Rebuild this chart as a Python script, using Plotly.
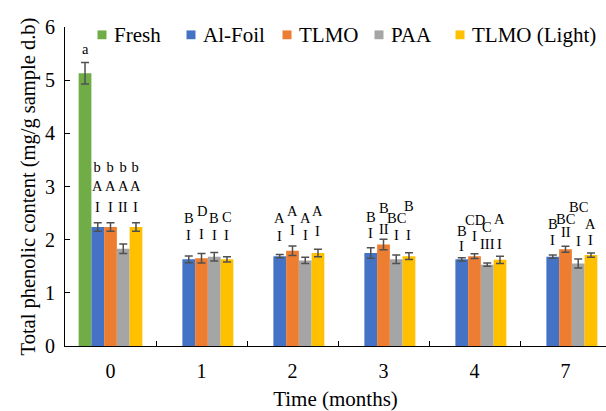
import plotly.graph_objects as go

# ---------------- data ----------------
months = ["0", "1", "2", "3", "4", "7"]
series_names = ["Fresh", "Al-Foil", "TLMO", "PAA", "TLMO (Light)"]

fresh = [5.13, None, None, None, None, None]
fresh_err = [0.20, None, None, None, None, None]
al_foil = [2.24, 1.63, 1.69, 1.75, 1.63, 1.68]
al_foil_err = [0.08, 0.065, 0.03, 0.10, 0.03, 0.03]
tlmo = [2.24, 1.65, 1.79, 1.91, 1.69, 1.82]
tlmo_err = [0.08, 0.09, 0.09, 0.10, 0.045, 0.055]
paa = [1.83, 1.68, 1.61, 1.63, 1.53, 1.55]
paa_err = [0.09, 0.08, 0.06, 0.08, 0.03, 0.085]
light = [2.24, 1.63, 1.75, 1.69, 1.62, 1.71]
light_err = [0.08, 0.05, 0.07, 0.065, 0.07, 0.04]

# significance letters (upper) and roman numerals (lower)
fresh_letters = ["a", "", "", "", "", ""]
al_letters = ["b<br>A", "B", "A", "B", "B", "B"]
al_roman = ["I", "I", "I", "I", "I", "I"]
tlmo_letters = ["b<br>A", "D", "A", "B", "CD", "BC"]
tlmo_roman = ["I", "I", "I", "II", "I", "II"]
paa_letters = ["b<br>A", "B", "A", "BC", "C", "BC"]
paa_roman = ["II", "I", "I", "I", "III", "I"]
light_letters = ["b<br>A", "C", "A", "B", "A", "A"]
light_roman = ["I", "I", "I", "I", "I", "I"]

# label heights (axis units) for the letter / numeral lines
fresh_letter_y = [5.58, None, None, None, None, None]
al_letter_y = [3.185, 2.40, 2.41, 2.43, 2.17, 2.30]
al_roman_y = [2.62, 2.08, 2.06, 2.12, 1.89, 2.00]
tlmo_letter_y = [3.185, 2.54, 2.54, 2.60, 2.37, 2.39]
tlmo_roman_y = [2.62, 2.11, 2.19, 2.21, 2.06, 2.14]
paa_letter_y = [3.185, 2.40, 2.41, 2.41, 2.23, 2.62]
paa_roman_y = [2.62, 2.08, 2.08, 2.08, 1.91, 1.98]
light_letter_y = [3.185, 2.43, 2.54, 2.63, 2.39, 2.30]
light_roman_y = [2.62, 2.08, 2.17, 2.08, 1.91, 2.00]

# ---------------- styles / layout ----------------
colors = ["#70AD47", "#4472C4", "#ED7D31", "#A5A5A5", "#FFC000"]
FONT = "Liberation Serif"
BARGAP = 0.3
W, H = 606, 411
ML, MR, MT, MB = 65, 0, 27, 58

# legend key placement (pixels in the figure)
legend_text_px = [112, 201, 297, 389, 470]
legend_y_px = 35
legend_key_size = 9
legend_key_gap = 10


def px_to_paper_x(px):
    return (px - ML) / (W - ML - MR)


def px_to_paper_y(py):
    return (H - MB - py) / (H - MT - MB)


values = [fresh, al_foil, tlmo, paa, light]
errors = [fresh_err, al_foil_err, tlmo_err, paa_err, light_err]

fig = go.Figure()
for name, vals, errs, col in zip(series_names, values, errors, colors):
    fig.add_trace(go.Bar(
        x=months, y=vals, name=name, showlegend=False,
        marker=dict(color=col, line=dict(width=0)),
        error_y=dict(type="data", array=errs, visible=True,
                     color="#505050", thickness=1.5, width=4),
    ))

# significance labels over each bar
n = len(series_names)
bw = (1 - BARGAP) / n
label_sets = [
    (0, fresh_letters, fresh_letter_y, None, None),
    (1, al_letters, al_letter_y, al_roman, al_roman_y),
    (2, tlmo_letters, tlmo_letter_y, tlmo_roman, tlmo_roman_y),
    (3, paa_letters, paa_letter_y, paa_roman, paa_roman_y),
    (4, light_letters, light_letter_y, light_roman, light_roman_y),
]
annotations = []
shapes = []
lab_font = dict(family=FONT, size=14.5, color="black")
for k, letters, ly, roman, ry in label_sets:
    for i in range(len(months)):
        xpos = i + (k - (n - 1) / 2) * bw
        if letters[i]:
            annotations.append(dict(x=xpos, y=ly[i], xref="x", yref="y",
                                    text=letters[i], showarrow=False,
                                    xanchor="center", yanchor="middle", font=lab_font))
        if roman and roman[i]:
            annotations.append(dict(x=xpos, y=ry[i], xref="x", yref="y",
                                    text=roman[i], showarrow=False,
                                    xanchor="center", yanchor="middle", font=lab_font))

# legend (keys + names) drawn in one row across the top
half = legend_key_size / 2
for name, col, tx in zip(series_names, colors, legend_text_px):
    cx = tx - legend_key_gap
    shapes.append(dict(type="rect", xref="paper", yref="paper",
                       x0=px_to_paper_x(cx - half), x1=px_to_paper_x(cx + half),
                       y0=px_to_paper_y(legend_y_px + half), y1=px_to_paper_y(legend_y_px - half),
                       fillcolor=col, line=dict(width=0)))
    annotations.append(dict(x=px_to_paper_x(tx), y=px_to_paper_y(legend_y_px),
                            xref="paper", yref="paper", text=name, showarrow=False,
                            xanchor="left", yanchor="middle",
                            font=dict(family=FONT, size=21, color="black")))

fig.update_layout(
    width=W, height=H,
    margin=dict(l=ML, r=MR, t=MT, b=MB),
    paper_bgcolor="white", plot_bgcolor="white",
    barmode="group", bargap=BARGAP, bargroupgap=0,
    font=dict(family=FONT, size=20, color="black"),
    showlegend=False,
    annotations=annotations,
    shapes=shapes,
    xaxis=dict(type="category", range=[-0.5, 5.445], tickson="boundaries",
               ticks="inside", ticklen=5, tickcolor="black",
               showline=True, linecolor="black", linewidth=1,
               showgrid=False, tickfont=dict(size=20), ticklabelstandoff=7,
               title=dict(text="Time (months)", font=dict(size=21), standoff=14)),
    yaxis=dict(range=[0, 6], dtick=1, ticks="inside", ticklen=5, tickcolor="black",
               showline=True, linecolor="black", linewidth=1,
               showgrid=False, zeroline=False, tickfont=dict(size=20),
               ticklabelstandoff=5,
               title=dict(text="Total phenolic content (mg/g sample d.b)",
                          font=dict(size=20.5), standoff=3)),
)

fig.write_html("out.html")
